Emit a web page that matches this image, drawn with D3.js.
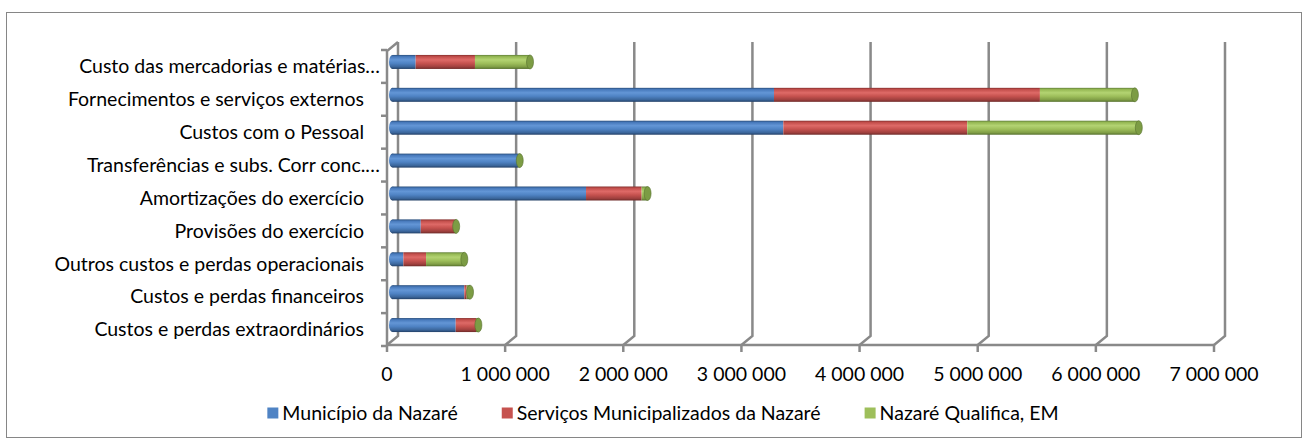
<!DOCTYPE html>
<html>
<head>
<meta charset="utf-8">
<script src="https://cdn.jsdelivr.net/npm/d3@7"></script>
<style>
  html, body { margin: 0; padding: 0; background: #fff; }
  svg { display: block; font-family: Lato, "Open Sans", sans-serif; }
</style>
</head>
<body>
<div id="chart"></div>
<script>
const categories = [
    'Custo das mercadorias e matérias…',
    'Fornecimentos e serviços externos',
    'Custos com o Pessoal',
    'Transferências e subs. Corr conc.…',
    'Amortizações do exercício',
    'Provisões do exercício',
    'Outros custos e perdas operacionais',
    'Custos e perdas financeiros',
    'Custos e perdas extraordinários'
];
const seriesNames = ['Município da Nazaré', 'Serviços Municipalizados da Nazaré', 'Nazaré Qualifica, EM'];
const municipio = [196000, 3229000, 3308000, 1065000, 1638000, 239000, 92000, 608000, 535000];
const servicos = [502000, 2251000, 1557000, 0, 471000, 290000, 192000, 20000, 172000];
const qualifica = [466000, 804000, 1452000, 12000, 50000, 10000, 324000, 28000, 20000];
const xTicks = [0, 1000000, 2000000, 3000000, 4000000, 5000000, 6000000, 7000000];

const W = 1308, H = 443;
const depth = { x: 11, y: -9 };
const gridColor = '#898989';
const fontSize = 19.5;

const palettes = [
    { stops: ['#2a4f7c', '#4779bb', '#6396d6', '#4f83c4', '#3b669b', '#223f66'], cap: '#3a6497' },
    { stops: ['#86302e', '#c24e4b', '#de6a67', '#c6524f', '#9f403e', '#6e2a28'], cap: '#9a3c3a' },
    { stops: ['#62803a', '#95b853', '#b3d372', '#9ebf5b', '#809e46', '#56702d'], cap: '#7c9c44' }
];
const stopOffsets = [0, 0.12, 0.35, 0.6, 0.85, 1];

const rows = categories.map((name, i) => ({
    name: name,
    values: [municipio[i], servicos[i], qualifica[i]]
}));

const x = d3.scaleLinear().domain([0, 7000000]).range([387, 1214]);
const y = d3.scaleBand().domain(categories).range([50, 346]);
const fmt = d3.formatLocale({ decimal: ',', thousands: ' ', grouping: [3], currency: ['', '€'] }).format(',d');

const svg = d3.select('#chart').append('svg').attr('width', W).attr('height', H);

const defs = svg.append('defs');
palettes.forEach((p, i) => {
    const g = defs.append('linearGradient').attr('id', 'cyl' + i)
        .attr('x1', 0).attr('y1', 0).attr('x2', 0).attr('y2', 1);
    g.selectAll('stop').data(p.stops).join('stop')
        .attr('offset', (_, k) => stopOffsets[k])
        .attr('stop-color', d => d);
});

// outer border
svg.append('rect')
    .attr('x', 6.5).attr('y', 12.5).attr('width', W - 13).attr('height', H - 18)
    .attr('fill', '#fff').attr('stroke', '#868686');

const [y0, y1] = y.range();

// left wall
const wall = svg.append('g').attr('fill', 'none').attr('stroke', gridColor).attr('stroke-width', 2.5);
wall.append('path')
    .attr('d', `M${x(0)},${y1} L${x(0)},${y0 + 1} L${x(0) + depth.x},${y0 + 1 + depth.y}`);

// gridlines on the back wall, joined to the floor by the depth diagonal
wall.selectAll('.grid').data(xTicks).join('path')
    .attr('class', 'grid')
    .attr('d', t => `M${x(t)},${y1 - 1} L${x(t) + depth.x},${y1 - 1 + depth.y} L${x(t) + depth.x},${y0 + 1 + depth.y}`);

// floor front edge and ticks
wall.append('path').attr('d', `M${x(0)},${y1 - 1} L${x(7000000)},${y1 - 1}`);
wall.selectAll('.xtick').data(xTicks).join('line')
    .attr('class', 'xtick')
    .attr('x1', t => x(t)).attr('x2', t => x(t))
    .attr('y1', y1 - 1).attr('y2', y1 + 6);
const bounds = categories.map(c => y(c)).concat([y1]);
wall.selectAll('.ytick').data(bounds).join('line')
    .attr('class', 'ytick')
    .attr('x1', x(0) - 6).attr('x2', x(0))
    .attr('y1', d => d).attr('y2', d => d);

// bars (cylinders at mid depth)
const barH = 14;
const mid = { x: depth.x / 2, y: depth.y / 2 };
const rowG = svg.append('g').selectAll('.row').data(rows).join('g')
    .attr('class', 'row')
    .attr('transform', d => `translate(${mid.x},${y(d.name) + y.bandwidth() / 2 + mid.y})`);

rowG.each(function (row) {
    const g = d3.select(this);
    let acc = 0;
    const segs = row.values.map((v, s) => {
        const seg = { s: s, start: acc, end: acc + v, v: v };
        acc += v;
        return seg;
    }).filter(seg => seg.v > 0);
    // rounded left end
    g.append('ellipse')
        .attr('cx', x(0)).attr('cy', 0).attr('rx', 3.5).attr('ry', barH / 2)
        .attr('fill', `url(#cyl${segs[0].s})`);
    g.selectAll('.seg').data(segs).join('rect')
        .attr('class', 'seg')
        .attr('x', d => x(d.start))
        .attr('y', -barH / 2)
        .attr('width', d => x(d.end) - x(d.start))
        .attr('height', barH)
        .attr('fill', d => `url(#cyl${d.s})`);
    const last = segs[segs.length - 1];
    g.append('ellipse')
        .attr('cx', x(last.end)).attr('cy', 0).attr('rx', 3.5).attr('ry', barH / 2)
        .attr('fill', palettes[last.s].cap)
        .attr('stroke', palettes[last.s].stops[5]).attr('stroke-width', 0.6);
});

// category labels
svg.append('g').selectAll('text').data(categories).join('text')
    .attr('x', d => d.endsWith('…') ? 380 : 364)
    .attr('y', d => y(d) + y.bandwidth() / 2)
    .attr('dy', '0.35em')
    .attr('text-anchor', 'end')
    .attr('font-size', fontSize)
    .attr('fill', '#000')
    .text(d => d);

// value labels
svg.append('g').selectAll('text').data(xTicks).join('text')
    .attr('x', t => x(t))
    .attr('y', 381)
    .attr('text-anchor', 'middle')
    .attr('font-size', fontSize)
    .attr('fill', '#000')
    .text(t => fmt(t));

// legend
const legend = svg.append('g');
const items = legend.selectAll('.item').data(seriesNames).join('g').attr('class', 'item');
items.append('rect')
    .attr('x', 0).attr('y', -12.5).attr('width', 11).attr('height', 11)
    .attr('fill', (_, i) => palettes[i].stops[3]);
items.append('text')
    .attr('x', 15).attr('y', 0)
    .attr('font-size', fontSize)
    .attr('fill', '#000')
    .text(d => d);
let lx = 0;
items.attr('transform', function () {
    const w = this.querySelector('text').getComputedTextLength() + 15;
    const t = `translate(${lx},0)`;
    lx += w + 44;
    return t;
});
const legendW = lx - 44;
legend.attr('transform', `translate(${663 - legendW / 2},420)`);
</script>
</body>
</html>
